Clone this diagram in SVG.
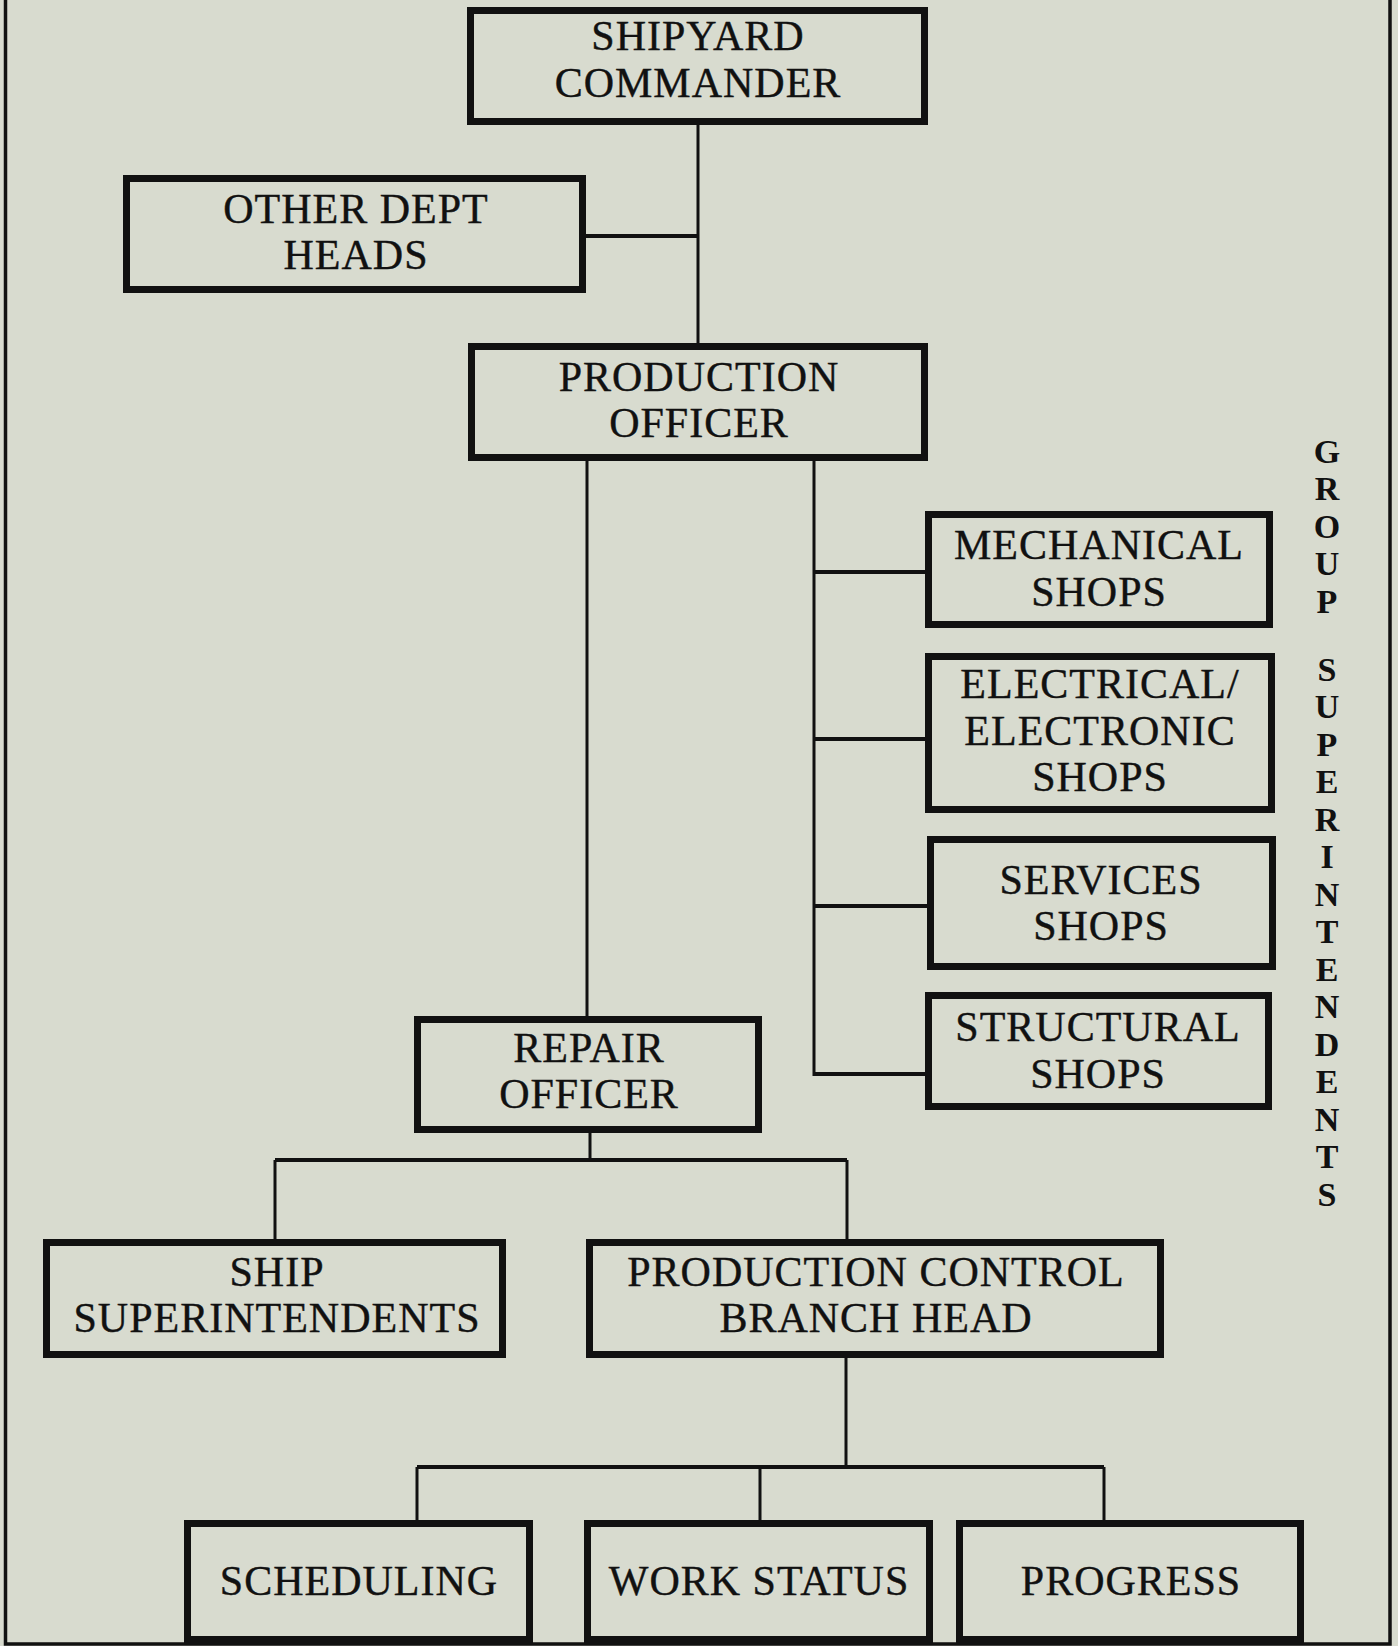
<svg xmlns="http://www.w3.org/2000/svg" width="1398" height="1646" viewBox="0 0 1398 1646">
<style>
.bx{fill:none;stroke:#111;stroke-width:7}
.t{font-family:"Liberation Serif","Times New Roman",serif;font-size:42px;letter-spacing:1px;fill:#111;stroke:#111;stroke-width:0.4;text-anchor:middle}
.v{font-family:"Liberation Serif","Times New Roman",serif;font-size:34px;font-weight:bold;fill:#111;text-anchor:middle}
.ln{stroke:#111;stroke-width:3;fill:none}
.lh{stroke:#111;stroke-width:4;fill:none}
</style>
<rect x="0" y="0" width="1398" height="1646" fill="#d8dbcf"/>
<path d="M5.5 0 V1644 H1390 V0" fill="none" stroke="#111" stroke-width="3.5"/>
<g id="connectors">
<line class="ln" x1="698" y1="125" x2="698" y2="343"/>
<line class="lh" x1="586" y1="236" x2="698" y2="236"/>
<line class="ln" x1="587" y1="461" x2="587" y2="1016"/>
<line class="ln" x1="814" y1="461" x2="814" y2="1076"/>
<line class="lh" x1="814" y1="572" x2="925" y2="572"/>
<line class="lh" x1="814" y1="739" x2="925" y2="739"/>
<line class="lh" x1="814" y1="906" x2="927" y2="906"/>
<line class="lh" x1="814" y1="1074" x2="925" y2="1074"/>
<line class="ln" x1="590" y1="1133" x2="590" y2="1160"/>
<line class="lh" x1="275" y1="1160" x2="847" y2="1160"/>
<line class="ln" x1="275" y1="1160" x2="275" y2="1239"/>
<line class="ln" x1="847" y1="1160" x2="847" y2="1239"/>
<line class="ln" x1="846" y1="1358" x2="846" y2="1467"/>
<line class="lh" x1="417" y1="1467" x2="1104" y2="1467"/>
<line class="ln" x1="417" y1="1467" x2="417" y2="1520"/>
<line class="ln" x1="760" y1="1467" x2="760" y2="1520"/>
<line class="ln" x1="1104" y1="1467" x2="1104" y2="1520"/>
</g>
<g id="shipyard-commander">
<rect class="bx" x="470.5" y="10.5" width="454" height="111"/>
<text class="t" x="698" y="50">SHIPYARD</text>
<text class="t" x="698" y="97">COMMANDER</text>
</g>
<g id="other-dept-heads">
<rect class="bx" x="126.5" y="178.5" width="456" height="111"/>
<text class="t" x="356" y="223">OTHER DEPT</text>
<text class="t" x="356" y="269">HEADS</text>
</g>
<g id="production-officer">
<rect class="bx" x="471.5" y="346.5" width="453" height="111"/>
<text class="t" x="699" y="391">PRODUCTION</text>
<text class="t" x="699" y="437">OFFICER</text>
</g>
<g id="mechanical-shops">
<rect class="bx" x="928.5" y="514.5" width="341" height="110"/>
<text class="t" x="1099" y="559">MECHANICAL</text>
<text class="t" x="1099" y="606">SHOPS</text>
</g>
<g id="electrical-shops">
<rect class="bx" x="928.5" y="656.5" width="343" height="153"/>
<text class="t" x="1100" y="698">ELECTRICAL/</text>
<text class="t" x="1100" y="745">ELECTRONIC</text>
<text class="t" x="1100" y="791">SHOPS</text>
</g>
<g id="services-shops">
<rect class="bx" x="930.5" y="839.5" width="342" height="127"/>
<text class="t" x="1101" y="894">SERVICES</text>
<text class="t" x="1101" y="940">SHOPS</text>
</g>
<g id="structural-shops">
<rect class="bx" x="928.5" y="995.5" width="340" height="111"/>
<text class="t" x="1098" y="1041">STRUCTURAL</text>
<text class="t" x="1098" y="1088">SHOPS</text>
</g>
<g id="repair-officer">
<rect class="bx" x="417.5" y="1019.5" width="341" height="110"/>
<text class="t" x="589" y="1062">REPAIR</text>
<text class="t" x="589" y="1108">OFFICER</text>
</g>
<g id="ship-superintendents">
<rect class="bx" x="46.5" y="1242.5" width="456" height="112"/>
<text class="t" x="277" y="1286">SHIP</text>
<text class="t" x="277" y="1332">SUPERINTENDENTS</text>
</g>
<g id="production-control-branch-head">
<rect class="bx" x="589.5" y="1242.5" width="571" height="112"/>
<text class="t" x="876" y="1286">PRODUCTION CONTROL</text>
<text class="t" x="876" y="1332">BRANCH HEAD</text>
</g>
<g id="scheduling">
<rect class="bx" x="187.5" y="1523.5" width="342" height="116"/>
<text class="t" x="359" y="1595">SCHEDULING</text>
</g>
<g id="work-status">
<rect class="bx" x="587.5" y="1523.5" width="342" height="116"/>
<text class="t" x="759" y="1595">WORK STATUS</text>
</g>
<g id="progress">
<rect class="bx" x="959.5" y="1523.5" width="341" height="116"/>
<text class="t" x="1131" y="1595">PROGRESS</text>
</g>
<g id="group-superintendents-label">
<text class="v" x="1327" y="463">G</text>
<text class="v" x="1327" y="500">R</text>
<text class="v" x="1327" y="538">O</text>
<text class="v" x="1327" y="575">U</text>
<text class="v" x="1327" y="613">P</text>
<text class="v" x="1327" y="681">S</text>
<text class="v" x="1327" y="718">U</text>
<text class="v" x="1327" y="756">P</text>
<text class="v" x="1327" y="793">E</text>
<text class="v" x="1327" y="831">R</text>
<text class="v" x="1327" y="868">I</text>
<text class="v" x="1327" y="906">N</text>
<text class="v" x="1327" y="943">T</text>
<text class="v" x="1327" y="981">E</text>
<text class="v" x="1327" y="1018">N</text>
<text class="v" x="1327" y="1056">D</text>
<text class="v" x="1327" y="1093">E</text>
<text class="v" x="1327" y="1131">N</text>
<text class="v" x="1327" y="1168">T</text>
<text class="v" x="1327" y="1206">S</text>
</g>
</svg>
